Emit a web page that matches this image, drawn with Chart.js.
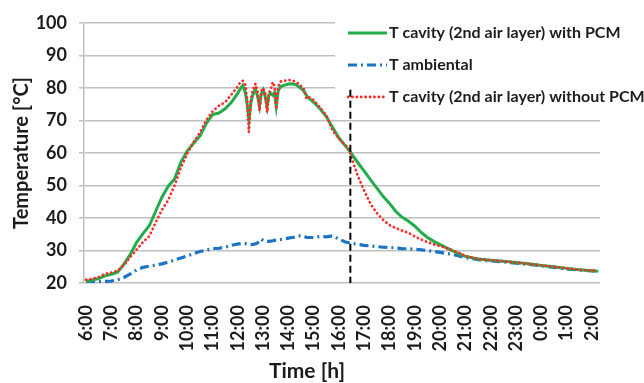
<!DOCTYPE html>
<html>
<head>
<meta charset="utf-8">
<script src="https://cdn.jsdelivr.net/npm/chart.js@4.4.1/dist/chart.umd.min.js"></script>
<style>
  html, body { margin: 0; padding: 0; background: #ffffff; }
  #wrap { width: 644px; height: 383px; }
</style>
</head>
<body>
<div id="wrap"><canvas id="chart" width="644" height="383"></canvas></div>
<script>
// Time of day in hours, counted from 6:00 (values past 24 belong to the next day)
const timeH = [
  6, 6.25, 6.5, 6.75, 7, 7.25, 7.5, 7.75, 8, 8.25,
  8.5, 8.75, 9, 9.25, 9.5, 9.75, 10, 10.25, 10.5, 10.75,
  11, 11.25, 11.5, 11.75, 12, 12.1, 12.2, 12.3, 12.37, 12.44,
  12.52, 12.6, 12.7, 12.78, 12.86, 12.93, 13, 13.08, 13.16, 13.23,
  13.3, 13.38, 13.45, 13.52, 13.6, 13.7, 13.85, 14, 14.15, 14.3,
  14.45, 14.6, 14.7, 14.75, 15, 15.25, 15.5, 15.75, 16, 16.25,
  16.4, 16.5, 16.75, 17, 17.25, 17.5, 17.75, 18, 18.25, 18.5,
  18.75, 19, 19.25, 19.5, 19.75, 20, 20.25, 20.5, 20.75, 21,
  21.5, 22, 22.5, 23, 23.5, 24, 24.5, 25, 25.5, 26,
  26.25
];

// Cavity temperature (2nd air layer) with PCM, °C
const withPCM = [
  20.5, 20.9, 21.4, 22.2, 22.7, 23.3, 25.8, 28.8, 32.5, 35.2,
  37.6, 42.0, 46.4, 49.8, 52.0, 57.2, 60.6, 63.0, 65.2, 69.0,
  71.8, 72.3, 73.6, 75.6, 78.4, 79.8, 80.8, 78.5, 75.0, 70.2,
  75.5, 78.0, 79.6, 77.5, 74.4, 78.2, 79.4, 77.5, 74.2, 77.8,
  78.4, 77.8, 78.5, 74.3, 79.2, 80.5, 80.9, 81.2, 81.3, 81.0,
  80.2, 79.2, 78.0, 77.3, 75.6, 73.6, 71.2, 67.8, 64.6, 62.2,
  60.8, 59.7, 57.0, 54.4, 51.7, 49.2, 46.6, 44.5, 42.0, 40.2,
  39.0, 37.5, 35.6, 34.0, 32.8, 31.8, 30.8, 29.9, 29.0, 28.2,
  27.4, 27.0, 26.7, 26.3, 25.9, 25.4, 25.0, 24.5, 24.1, 23.8,
  23.6
];

// Ambient temperature, °C
const ambient = [
  20.6, 20.5, 20.4, 20.5, 20.6, 21.0, 21.7, 22.8, 24.0, 24.8,
  25.2, 25.5, 25.9, 26.4, 27.1, 27.7, 28.3, 29.0, 29.7, 30.1,
  30.6, 30.7, 31.0, 31.6, 32.0, 32.1, 32.2, 32.1, 32.0, 31.8,
  31.8, 31.9, 32.1, 32.3, 33.0, 33.5, 33.1, 32.9, 32.8, 32.8,
  32.9, 33.0, 33.1, 33.2, 33.3, 33.4, 33.6, 33.8, 34.0, 34.2,
  34.5, 34.4, 34.1, 34.0, 34.0, 34.3, 34.2, 34.5, 33.5, 32.6,
  32.4, 32.2, 31.9, 31.6, 31.4, 31.2, 31.0, 30.9, 30.8, 30.6,
  30.5, 30.4, 30.2, 30.0, 29.7, 29.4, 29.1, 28.8, 28.3, 27.8,
  27.2, 26.8, 26.5, 26.1, 25.7, 25.3, 24.8, 24.3, 24.0, 23.7,
  23.6
];

// Cavity temperature (2nd air layer) without PCM, °C
const withoutPCM = [
  21.0, 21.3, 21.8, 22.8, 23.2, 23.8, 25.5, 28.0, 30.3, 32.6,
  34.4, 38.6, 42.5, 45.5, 50.0, 55.5, 59.8, 63.3, 66.3, 70.0,
  72.8, 74.5, 75.6, 78.0, 80.5, 81.8, 82.2, 81.0, 76.0, 66.4,
  76.5, 79.5, 81.3, 79.0, 73.0, 79.0, 80.0, 78.5, 72.5, 78.5,
  79.5, 81.8, 80.5, 73.5, 80.5, 82.0, 82.2, 82.5, 82.3, 81.9,
  81.0, 79.8, 77.0, 77.5, 76.3, 74.0, 71.5, 67.0, 64.4, 62.5,
  61.0, 58.5, 52.8, 48.4, 44.3, 41.5, 39.4, 37.8, 36.9, 36.1,
  35.4, 34.3, 33.4, 32.6, 31.9, 31.3, 30.8, 30.0, 29.2, 28.3,
  27.4, 27.0, 26.7, 26.3, 25.9, 25.4, 25.0, 24.5, 24.1, 23.8,
  23.7
];

const seriesNames = [
  'T cavity (2nd air layer) with PCM',
  'T ambiental',
  'T cavity (2nd air layer) without PCM'
];

// Vertical reference line (sunset / end of solar gain)
const markerTime = [16.45, 16.45];
const markerTemp = [79.5, 20];

// Axis ranges
const xRange = [5.92, 26.32];
const yRange = [20, 100];
const yStep = 10;

const FONT = 'Lato, "Open Sans", sans-serif';
const TEXT = '#1c1c1c';
const GREEN = '#22ac4b';
const BLUE = '#1a73c4';
const RED = '#ff2a2a';
const GRID = '#c0c0c0';

const points = (xs, ys) => xs.map((x, i) => ({ x, y: ys[i] }));

// Legend drawn in the upper right of the plot, on a white box
const legendPlugin = {
  id: 'insetLegend',
  beforeDatasetsDraw(chart) {
    const ctx = chart.ctx;
    ctx.save();
    ctx.fillStyle = '#ffffff';
    ctx.fillRect(335, 8, 300, 100);
    const items = [
      { y: 33, color: GREEN, dash: [], width: 3, cap: 'butt' },
      { y: 65, color: BLUE, dash: [9, 4, 2, 4], width: 3.2, cap: 'butt' },
      { y: 97, color: RED, dash: [0.1, 4.3], width: 2.8, cap: 'round' }
    ];
    items.forEach((it, i) => {
      ctx.beginPath();
      ctx.setLineDash(it.dash);
      ctx.lineCap = it.cap;
      ctx.strokeStyle = it.color;
      ctx.lineWidth = it.width;
      ctx.moveTo(348, it.y);
      ctx.lineTo(387, it.y);
      ctx.stroke();
      ctx.setLineDash([]);
      ctx.fillStyle = TEXT;
      ctx.font = 'bold 16px ' + FONT;
      ctx.textAlign = 'left';
      ctx.textBaseline = 'middle';
      ctx.fillText(seriesNames[i], 389, it.y);
    });
    ctx.restore();
  },
  afterDraw(chart) {
    const ctx = chart.ctx;
    ctx.save();
    ctx.fillStyle = TEXT;
    ctx.font = 'bold 21px ' + FONT;
    ctx.textAlign = 'center';
    ctx.textBaseline = 'middle';
    ctx.fillText('Time [h]', 307, 371);
    ctx.restore();
  }
};

new Chart(document.getElementById('chart'), {
  type: 'line',
  data: {
    datasets: [
      {
        label: 'marker',
        data: points(markerTime, markerTemp),
        borderColor: '#000000',
        borderWidth: 2,
        borderDash: [7, 4],
        pointRadius: 0,
        order: 0
      },
      {
        label: seriesNames[2],
        data: points(timeH, withoutPCM),
        borderColor: RED,
        borderWidth: 2.8,
        borderDash: [0.1, 4.3],
        borderCapStyle: 'round',
        pointRadius: 0,
        tension: 0,
        order: 1
      },
      {
        label: seriesNames[0],
        data: points(timeH, withPCM),
        borderColor: GREEN,
        borderWidth: 3,
        pointRadius: 0,
        tension: 0,
        order: 2
      },
      {
        label: seriesNames[1],
        data: points(timeH, ambient),
        borderColor: BLUE,
        borderWidth: 3.2,
        borderDash: [9, 4, 2, 4],
        pointRadius: 0,
        tension: 0,
        order: 3
      }
    ]
  },
  options: {
    responsive: false,
    animation: false,
    events: [],
    layout: { padding: { top: 23, right: 44, bottom: 0, left: 0 } },
    plugins: {
      legend: { display: false },
      tooltip: { enabled: false },
      title: { display: false }
    },
    scales: {
      x: {
        type: 'linear',
        min: xRange[0],
        max: xRange[1],
        grid: { display: false },
        border: { display: false },
        ticks: {
          stepSize: 1,
          includeBounds: false,
          autoSkip: false,
          minRotation: 90,
          maxRotation: 90,
          padding: 14,
          color: TEXT,
          font: { family: FONT, size: 18, weight: 'bold' },
          callback: (v) => Number.isInteger(v) ? (v % 24) + ':00' : ''
        },
        afterFit(scale) { scale.height = 100; }
      },
      y: {
        min: yRange[0],
        max: yRange[1],
        grid: { color: GRID, lineWidth: 1.5, tickLength: 5, drawTicks: true },
        border: { display: true, color: GRID, width: 1.5 },
        ticks: {
          stepSize: yStep,
          padding: 12,
          color: TEXT,
          font: { family: FONT, size: 18, weight: 'bold' }
        },
        title: {
          display: true,
          text: 'Temperature [°C]',
          color: TEXT,
          font: { family: FONT, size: 20, weight: 'bold' },
          padding: { top: 10, bottom: 0 }
        },
        afterFit(scale) { scale.width = 84; }
      }
    }
  },
  plugins: [legendPlugin]
});
</script>
</body>
</html>
